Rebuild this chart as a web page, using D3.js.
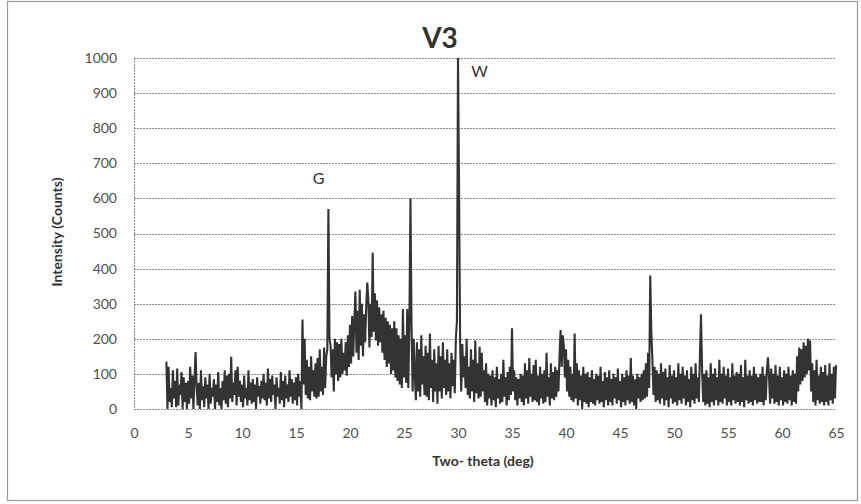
<!DOCTYPE html>
<html><head><meta charset="utf-8">
<script src="https://cdn.jsdelivr.net/npm/d3@7"></script>
<style>body{margin:0;background:#fff}svg{display:block}</style>
</head><body>
<script>
// Two-theta grid: starts at 3.0 deg, step 0.1 deg
const thetaStart = 3.0;
const thetaStep = 0.1;
// Intensity (counts), one row per degree (x.0 ... x.9)
const intensity = [
 135,0,120,20,60,5,110,30,80,5,        // 3
 115,10,70,40,105,0,90,20,75,0,        // 4
 80,15,120,30,95,0,85,162,60,10,       // 5
 75,0,110,25,65,5,90,30,70,0,          // 6
 100,15,60,35,85,0,70,20,105,10,       // 7
 60,0,80,25,110,15,95,5,100,30,        // 8
 149,20,75,40,110,10,120,35,80,20,     // 9
 70,5,95,30,60,10,110,25,75,15,        // 10
 85,20,70,0,90,35,65,15,80,30,         // 11
 100,25,75,10,115,30,85,20,95,40,      // 12
 70,0,90,35,60,15,105,25,80,5,         // 13
 95,30,70,20,110,35,85,15,75,25,       // 14
 90,10,100,35,80,0,255,70,200,40,      // 15
 140,30,120,25,150,50,110,35,130,30,   // 16
 145,35,170,50,120,40,175,60,150,170,  // 17
 570,200,180,90,170,50,200,100,190,80, // 18
 185,90,200,100,160,110,190,95,210,120,// 19
 240,130,265,150,250,335,160,280,140,340,// 20
 180,300,150,270,190,290,360,310,175,300,// 21
 205,445,220,330,195,310,180,290,190,270,// 22
 160,280,140,260,120,250,130,240,100,230,// 23
 110,250,90,230,80,210,70,200,60,285,  // 24
 90,210,75,285,60,250,600,230,50,200,  // 25
 100,25,190,50,170,35,210,70,150,40,   // 26
 180,35,160,25,215,60,140,20,170,50,   // 27
 130,15,180,50,150,30,190,60,140,40,   // 28
 170,50,130,30,160,65,140,45,200,250,  // 29
 1000,620,180,50,185,90,150,60,200,40, // 30
 120,30,170,50,140,20,195,45,130,30,   // 31
 177,35,160,50,110,20,130,10,100,30,   // 32
 95,10,110,25,90,5,120,30,85,15,       // 33
 100,20,140,35,90,10,105,25,120,40,    // 34
 230,50,110,25,90,10,85,30,100,20,     // 35
 95,10,130,30,110,15,145,35,100,20,    // 36
 125,25,140,20,95,10,120,30,100,15,    // 37
 110,20,160,35,90,10,130,30,105,25,    // 38
 120,35,110,50,150,225,120,210,180,90, // 39
 170,50,140,35,120,25,100,20,215,30,   // 40
 130,10,110,25,95,0,120,20,100,15,     // 41
 105,5,90,20,110,15,85,10,100,25,      // 42
 95,15,120,20,80,5,105,25,90,10,       // 43
 110,20,85,10,100,30,90,15,115,25,     // 44
 80,5,100,20,90,10,110,25,95,15,       // 45
 145,20,95,10,85,0,100,30,90,20,       // 46
 100,25,110,30,130,35,160,60,380,220,  // 47
 140,40,120,20,110,25,100,15,130,30,   // 48
 105,10,115,25,90,5,125,30,95,15,      // 49
 110,20,90,10,130,25,100,15,120,30,    // 50
 95,10,110,20,85,5,120,25,100,15,      // 51
 130,30,90,20,150,270,110,20,100,10,   // 52
 110,15,90,5,130,20,100,10,115,25,     // 53
 90,10,140,20,100,15,120,30,95,10,     // 54
 115,20,90,10,130,25,95,15,105,20,     // 55
 100,10,125,20,90,5,140,25,95,15,      // 56
 110,20,95,10,120,25,100,15,90,20,     // 57
 100,20,120,10,95,25,110,147,90,15,    // 58
 115,30,100,15,125,20,95,10,120,25,    // 59
 90,10,110,20,100,15,120,25,95,10,     // 60
 110,20,100,15,150,50,175,70,170,80,   // 61
 190,90,180,100,200,110,195,50,130,20, // 62
 110,10,140,25,95,15,120,20,105,10,    // 63
 125,20,95,10,130,25,100,15,120,30,    // 64
 125                                   // 65
];
const xTicks = [0,5,10,15,20,25,30,35,40,45,50,55,60,65];
const yTicks = [0,100,200,300,400,500,600,700,800,900,1000];
const title = "V3";
const xTitle = "Two- theta (deg)";
const yTitle = "Intensity (Counts)";
const peakLabels = [{t:"G", x:17.1, y:640}, {t:"W", x:32.0, y:945}];

const W = 861, H = 504;
const font = "Lato, 'Open Sans', sans-serif";
const svg = d3.select("body").append("svg").attr("width", W).attr("height", H);
svg.append("rect").attr("width", W).attr("height", H).attr("fill", "#fff");
svg.append("rect").attr("x", 7.5).attr("y", 1.5).attr("width", 850).attr("height", 499)
  .attr("fill", "none").attr("stroke", "#9a9a9a").attr("stroke-width", 1.2);

const x = d3.scaleLinear().domain([0, 65]).range([134, 836]);
const y = d3.scaleLinear().domain([0, 1000]).range([409, 58]);

// gridlines
svg.append("g").selectAll("line").data(yTicks).join("line")
  .attr("x1", x(0)).attr("x2", x(65))
  .attr("y1", d => Math.round(y(d)) + 0.5).attr("y2", d => Math.round(y(d)) + 0.5)
  .attr("stroke", "#8a8a8a").attr("stroke-width", 1).attr("stroke-dasharray", "2,1");
svg.append("line").attr("x1", x(0) + 0.5).attr("x2", x(0) + 0.5).attr("y1", y(1000)).attr("y2", y(0))
  .attr("stroke", "#8a8a8a").attr("stroke-dasharray", "2,1");

// axes (labels only)
const yAxis = d3.axisLeft(y).tickValues(yTicks).tickFormat(d3.format("d")).tickSize(0).tickPadding(17);
const gy = svg.append("g").attr("transform", `translate(${x(0)},0)`).call(yAxis);
const xAxis = d3.axisBottom(x).tickValues(xTicks).tickFormat(d3.format("d")).tickSize(0).tickPadding(19);
const gx = svg.append("g").attr("transform", `translate(0,${y(0)})`).call(xAxis);
[gx, gy].forEach(g => {
  g.select(".domain").remove();
  g.selectAll("text").attr("font-family", font).attr("font-size", 14).attr("fill", "#505050");
});

// data line
const pts = intensity.map((v, i) => [thetaStart + i * thetaStep, v]);
svg.append("path").datum(pts)
  .attr("d", d3.line().x(d => x(d[0])).y(d => y(d[1])))
  .attr("fill", "none").attr("stroke", "#333").attr("stroke-width", 2.1)
  .attr("stroke-linejoin", "bevel");

// titles
svg.append("text").attr("x", 440).attr("y", 48).attr("text-anchor", "middle")
  .attr("font-family", font).attr("font-weight", "bold").attr("font-size", 28).attr("fill", "#333").text(title);
svg.append("text").attr("x", 483).attr("y", 466).attr("text-anchor", "middle")
  .attr("font-family", font).attr("font-weight", "bold").attr("font-size", 14).attr("fill", "#333").text(xTitle);
svg.append("text").attr("transform", "translate(62,232) rotate(-90)").attr("text-anchor", "middle")
  .attr("font-family", font).attr("font-weight", "bold").attr("font-size", 14).attr("fill", "#333").text(yTitle);

svg.append("g").selectAll("text").data(peakLabels).join("text")
  .attr("x", d => x(d.x)).attr("y", d => y(d.y)).attr("text-anchor", "middle")
  .attr("font-family", font).attr("font-size", 16).attr("fill", "#333").text(d => d.t);
</script>
</body></html>
